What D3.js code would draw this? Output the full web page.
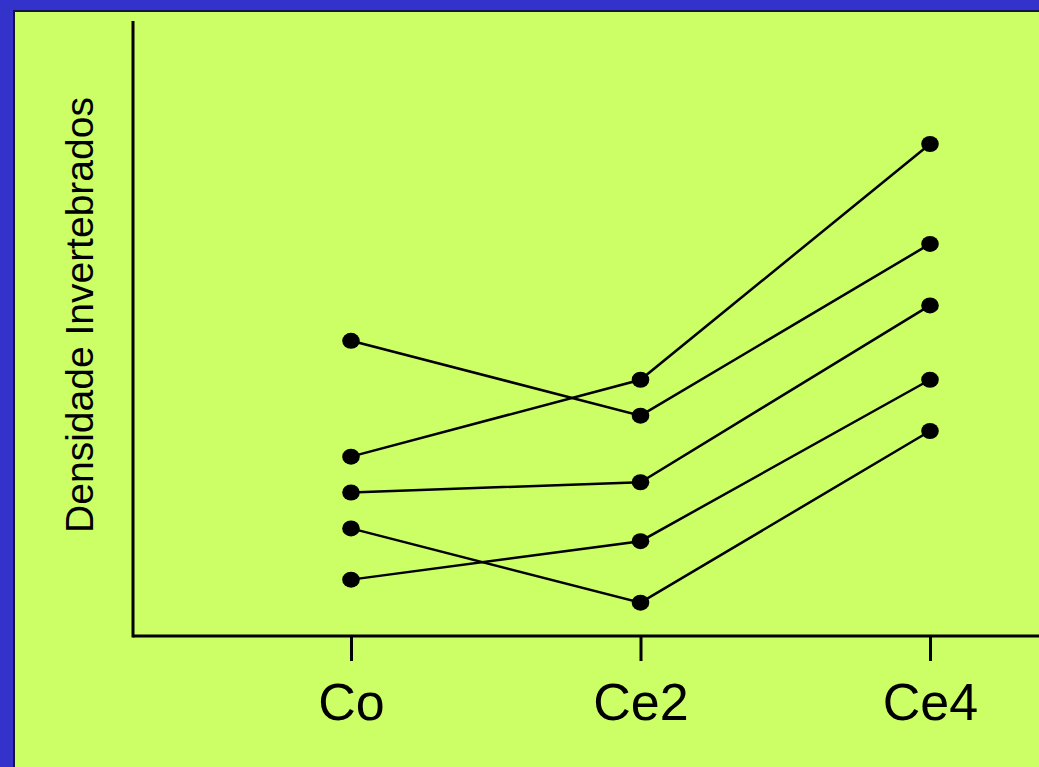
<!DOCTYPE html>
<html lang="en">
<head>
  <meta charset="UTF-8">
  <script src="https://d3js.org/d3.v7.min.js"></script>
  <style>
    body {
      margin: 0;
      padding: 0;
      background-color: #3333cc;
      overflow: hidden;
    }
    svg text {
      font-family: Arial, "Liberation Sans", sans-serif;
      fill: #000;
    }
  </style>
</head>
<body>
  <div id="chart"></div>

  <script>
    const width = 1039, height = 767;

    // data
    const categories = ["Co", "Ce2", "Ce4"];
    const yLabel = "Densidade Invertebrados";
    const seriesA = [5.76, 4.3, 7.65];
    const seriesB = [3.5, 5.0, 9.6];
    const seriesC = [2.8, 3.0, 6.45];
    const seriesD = [2.1, 0.65, 4.0];
    const seriesE = [1.1, 1.85, 5.0];
    const allSeries = [seriesA, seriesB, seriesC, seriesD, seriesE];

    const svg = d3.select("#chart")
      .append("svg")
      .attr("width", width)
      .attr("height", height);

    // green panel with the dark edge
    svg.append("rect")
      .attr("x", 14)
      .attr("y", 11)
      .attr("width", width)
      .attr("height", height)
      .attr("fill", "#ccff66")
      .attr("stroke", "#14143c")
      .attr("stroke-width", 2);

    const x = d3.scalePoint()
      .domain(categories)
      .range([351, 930]);

    const y = d3.scaleLinear()
      .domain([0, 12])
      .range([636, 21]);

    // axes drawn as plain lines
    svg.append("line")
      .attr("x1", 133).attr("x2", 133)
      .attr("y1", y(12)).attr("y2", y(0) + 1.5)
      .attr("stroke", "#000").attr("stroke-width", 3);

    const xAxis = d3.axisBottom(x).tickSize(25).tickSizeOuter(0).tickPadding(22);
    const gx = svg.append("g")
      .attr("transform", `translate(0,${y(0)})`)
      .call(xAxis);
    gx.select(".domain").remove();
    gx.selectAll(".tick line").attr("stroke", "#000").attr("stroke-width", 3);
    gx.selectAll(".tick text")
      .style("font-size", "52px")
      .attr("fill", "#000");

    svg.append("line")
      .attr("x1", 133).attr("x2", width)
      .attr("y1", y(0)).attr("y2", y(0))
      .attr("stroke", "#000").attr("stroke-width", 3);

    // y label
    svg.append("text")
      .attr("transform", "translate(93,315) rotate(-90)")
      .attr("text-anchor", "middle")
      .style("font-size", "39px")
      .text(yLabel);

    const line = d3.line()
      .x((d, i) => x(categories[i]))
      .y(d => y(d));

    svg.append("g")
      .selectAll("path")
      .data(allSeries)
      .enter()
      .append("path")
      .attr("d", line)
      .attr("fill", "none")
      .attr("stroke", "#000")
      .attr("stroke-width", 2.5);

    const points = [];
    allSeries.forEach(s => s.forEach((v, i) => points.push({ cat: categories[i], v })));

    svg.append("g")
      .selectAll("ellipse")
      .data(points)
      .enter()
      .append("ellipse")
      .attr("cx", d => x(d.cat))
      .attr("cy", d => y(d.v))
      .attr("rx", 8.8)
      .attr("ry", 8)
      .attr("fill", "#000");
  </script>
</body>
</html>
